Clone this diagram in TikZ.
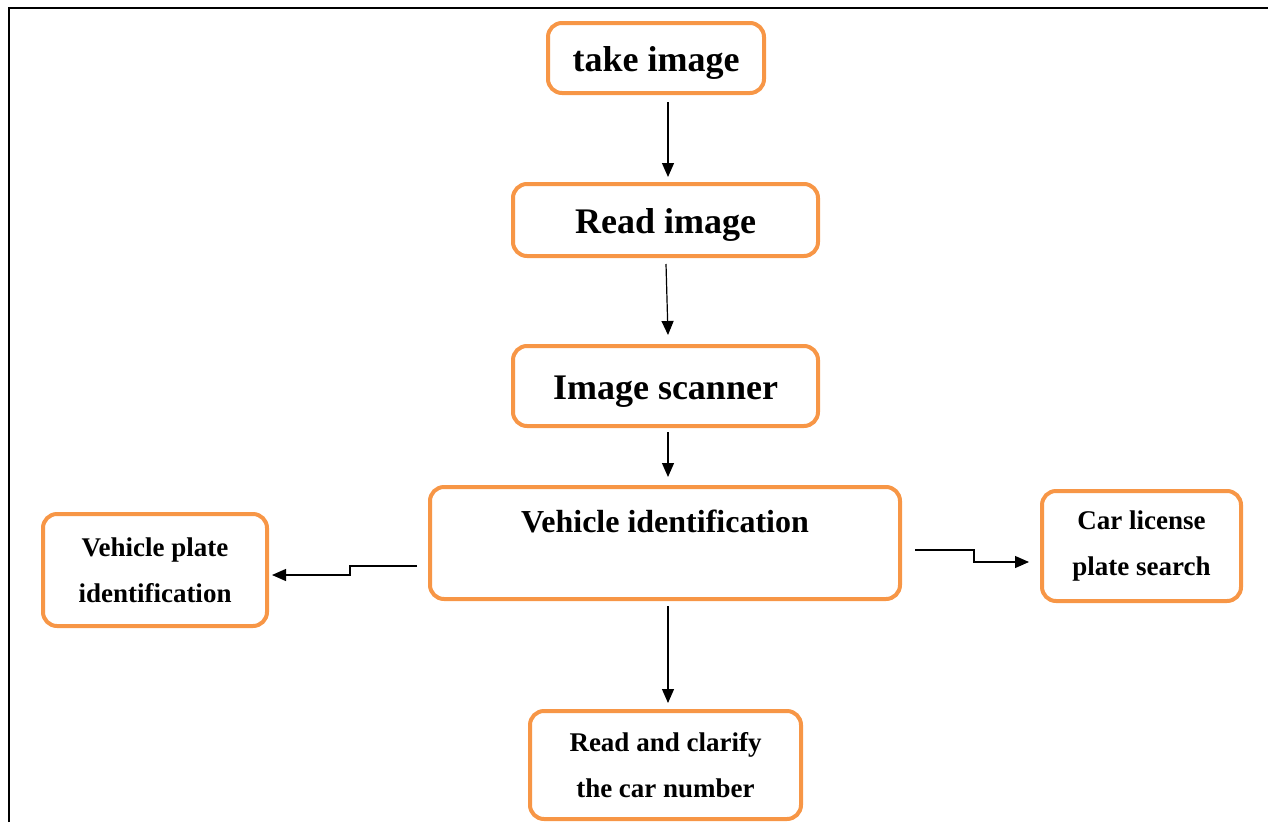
\documentclass[tikz,border=0pt]{standalone}
\usepackage{fontspec}
\setmainfont{Liberation Serif}
\usetikzlibrary{arrows.meta,calc}
\definecolor{boxorange}{RGB}{247,150,70}
\tikzset{
  box/.style={draw=boxorange, line width=4pt, rounded corners=14pt, fill=white,
    inner sep=0pt, align=center, font=\bfseries},
  big/.style={font=\bfseries\fontsize{36}{40}\selectfont, text height=30pt, text depth=3pt},
  mid/.style={font=\bfseries\fontsize{32}{36}\selectfont},
  small/.style={font=\bfseries\fontsize{27}{46}\selectfont},
  arr/.style={draw=black, line width=1.2pt, -{Triangle[length=14pt,width=12pt]}},
  frameline/.style={draw=black, line width=2pt}
}
\begin{document}
\begin{tikzpicture}[x=1pt,y=-1pt]
\useasboundingbox (0,0) rectangle (1268,822);
\coordinate (fbl) at (9,822);
\coordinate (ftl) at (9,8);
\coordinate (ftr) at (1268,8);
\draw[frameline] (fbl) -- (ftl) -- (ftr);

\node[box,big,minimum width=216pt,minimum height=70pt] (t) at (656,58) {take image};
\node[box,big,minimum width=305pt,minimum height=72pt] (r) at (665.5,220) {Read image};
\node[box,big,minimum width=305pt,minimum height=80pt] (s) at (665.5,386) {Image scanner};
\node[box,mid,minimum width=470pt,minimum height=112pt,text height=24pt,text depth=46pt] (v) at (665,543) {Vehicle identification};
\node[box,small,minimum width=224pt,minimum height=112pt] (vp) at (155,570) {Vehicle plate\\identification};
\node[box,small,minimum width=199pt,minimum height=110pt] (cl) at (1141.5,546) {Car license\\plate search};
\node[box,small,minimum width=271pt,minimum height=108pt] (rc) at (665.5,765) {Read and clarify\\the car number};

\draw[arr] ($(t.south)+(12,7)$) -- ($(r.north)+(2.5,-5)$);
\draw[arr] ($(r.south)+(0.5,6)$) -- ($(s.north)+(2.5,-9)$);
\draw[arr] ($(s.south)+(2.5,4)$) -- ($(v.north)+(3,-8)$);
\draw[arr] ($(v.south)+(3,5)$) -- ($(rc.north)+(2.5,-6)$);

\coordinate (l1) at ($(v.west)+(-11,23)$);
\coordinate (l2) at ($(vp.east)+(81,-4)$);
\draw[arr] (l1) -- (l1 -| l2) -- ($(vp.east)+(81,5)$) -- ($(vp.east)+(3,5)$);

\coordinate (r1) at ($(v.east)+(13,7)$);
\coordinate (r2) at ($(cl.west)+(-66,16)$);
\draw[arr] (r1) -- (r1 -| r2) -- (r2) -- ($(cl.west)+(-11,16)$);
\end{tikzpicture}
\end{document}
